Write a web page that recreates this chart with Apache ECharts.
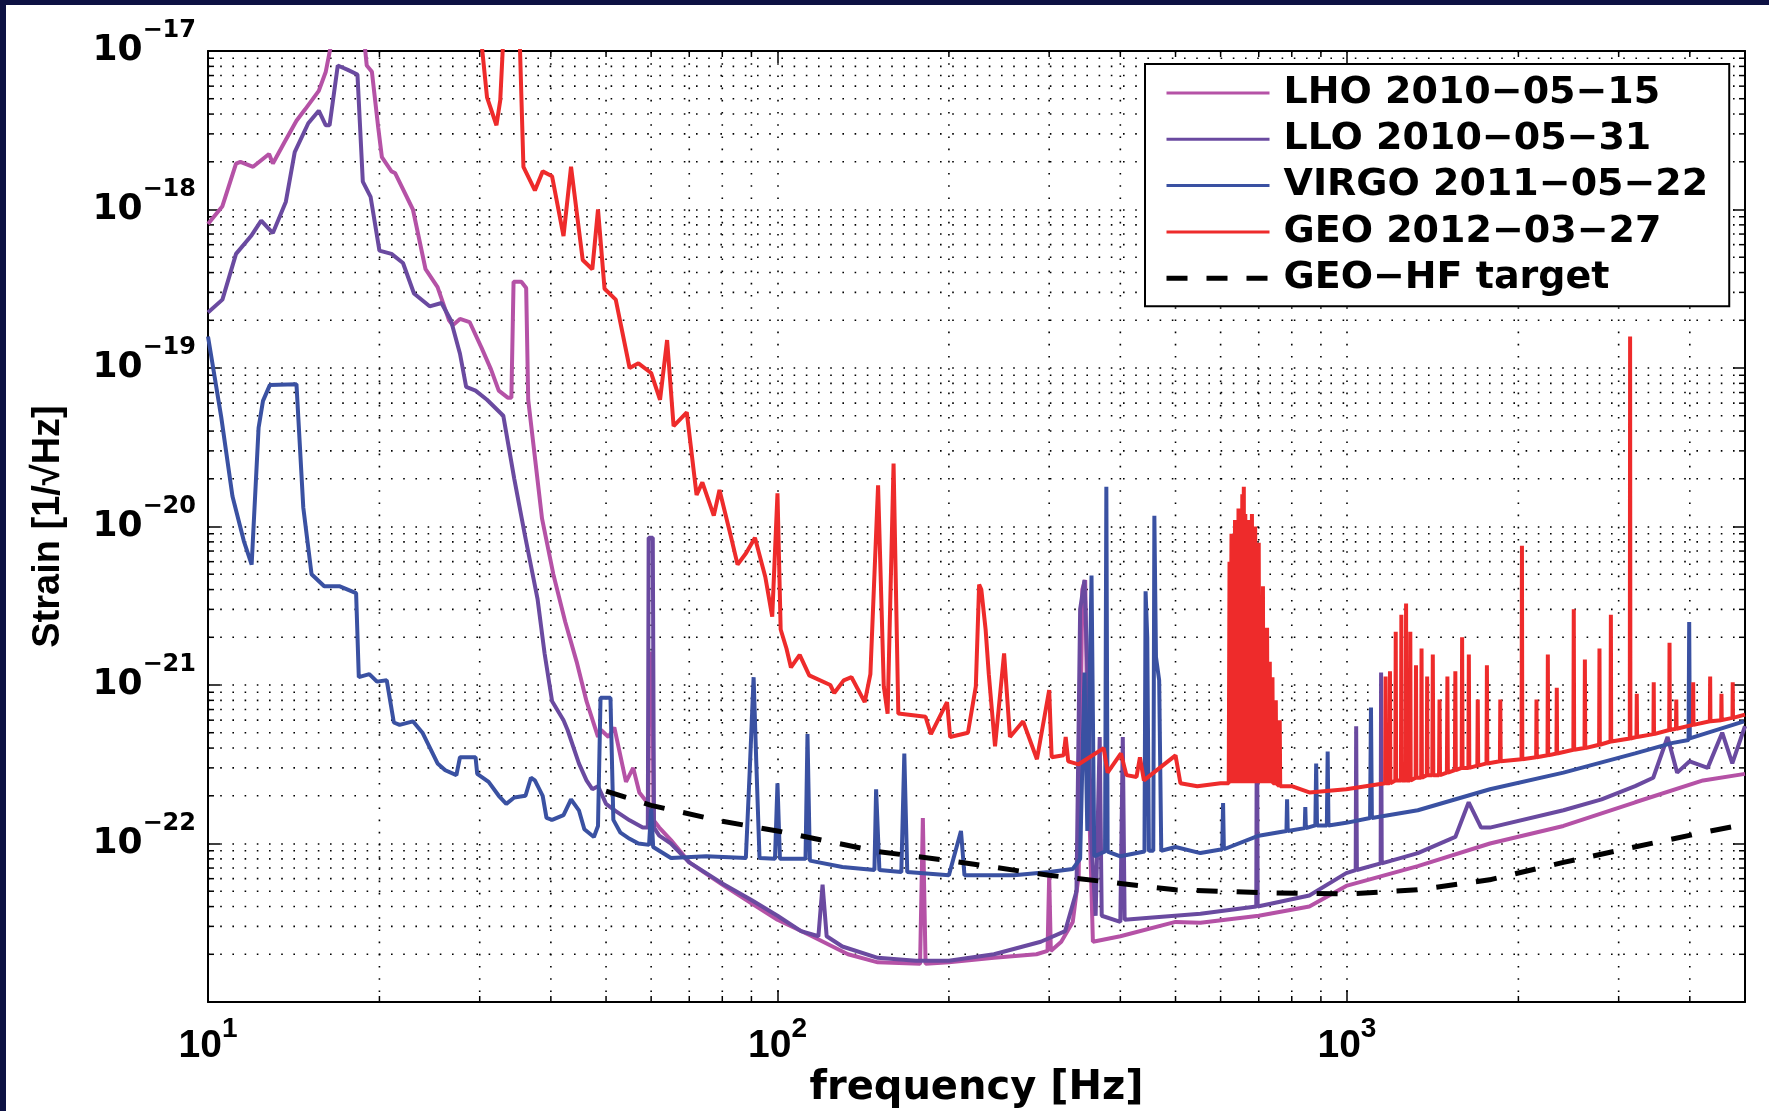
<!DOCTYPE html>
<html>
<head>
<meta charset="utf-8">
<title>Strain sensitivity</title>
<script src="https://cdn.jsdelivr.net/npm/echarts@6/dist/echarts.min.js"></script>
<style>
  html, body { margin: 0; padding: 0; width: 1769px; height: 1111px; background: #0d1143; overflow: hidden; }
  #chart { position: absolute; left: 6px; top: 5px; width: 1763px; height: 1106px; background: #fff; }
</style>
</head>
<body>
<div id="chart"></div>
<script>
// [frequency Hz, strain 1/sqrt(Hz)]
var lhoData = [
  [10, 8.1e-19], [10.6, 1.05e-18], [11.2, 1.95e-18], [11.4, 2.0e-18], [12.0, 1.86e-18], [12.8, 2.24e-18],
  [13.0, 1.95e-18], [13.6, 2.63e-18], [14.3, 3.63e-18], [14.8, 4.27e-18], [15.65, 5.6e-18], [16.1, 7.4e-18],
  [16.6, 1.3e-17], [17.5, 3e-17], [18.3, 3e-17], [18.75, 1.3e-17], [19.0, 8.1e-18], [19.4, 7.4e-18],
  [19.9, 3.3e-18], [20.2, 2.14e-18], [21.0, 1.74e-18], [21.3, 1.7e-18], [22.9, 1.0e-18], [24.1, 4.2e-19],
  [25.3, 3.24e-19], [26.5, 2.0e-19], [26.9, 1.86e-19], [27.7, 2.04e-19], [28.8, 1.95e-19], [30.2, 1.35e-19],
  [31.4, 9.8e-20], [32.4, 7.2e-20], [33.6, 6.5e-20], [34.1, 6.5e-20], [34.4, 3.5e-19], [35.5, 3.5e-19],
  [36.2, 3.2e-19], [36.5, 6.3e-20], [38.6, 1.12e-20], [40.4, 5.0e-21], [42.4, 2.5e-21], [44.4, 1.4e-21],
  [46.2, 7.9e-22], [48.4, 4.7e-22], [49, 5.2e-22], [50.5, 4.7e-22], [51.7, 5.4e-22], [54.2, 2.45e-22],
  [55.8, 3.0e-22], [57.2, 2.1e-22], [59.3, 1.78e-22], [59.6, 1.58e-21], [60.3, 1.58e-21], [60.6, 1.4e-22],
  [62, 1.26e-22], [65, 1.05e-22], [70, 7.6e-23], [80, 5.5e-23], [90, 4.2e-23], [100, 3.3e-23],
  [115, 2.6e-23], [133, 2.0e-23], [150, 1.78e-23], [178, 1.74e-23], [180, 1.45e-22], [182, 1.74e-23],
  [200, 1.78e-23], [240, 1.9e-23], [285, 2.0e-23], [298, 2.1e-23], [300, 6.3e-23], [302, 2.1e-23],
  [315, 2.4e-23], [330, 3.2e-23], [338, 6.3e-23], [343, 4.0e-21], [347, 4.6e-21], [351, 3.2e-22],
  [358, 2.4e-23], [400, 2.6e-23], [500, 3.2e-23], [553, 3.16e-23], [700, 3.5e-23], [859, 4.0e-23],
  [997, 5.4e-23], [1332, 7.2e-23], [1783, 1.0e-22], [2400, 1.29e-22], [3207, 1.82e-22], [4220, 2.5e-22],
  [5000, 2.75e-22]
];

var lloData = [
  [10, 2.24e-19], [10.6, 2.7e-19], [11.2, 5.25e-19], [11.9, 6.8e-19], [12.4, 8.5e-19], [13.0, 7.1e-19],
  [13.7, 1.12e-18], [14.2, 2.3e-18], [15.0, 3.5e-18], [15.65, 4.2e-18], [16.1, 3.4e-18], [16.35, 3.4e-18],
  [16.9, 8.1e-18], [17.6, 7.6e-18], [18.3, 7.1e-18], [18.7, 1.5e-18], [19.3, 1.2e-18], [20.0, 5.5e-19],
  [21.0, 5.25e-19], [22.0, 4.6e-19], [23.0, 2.95e-19], [24.5, 2.45e-19], [25.7, 2.57e-19], [26.7, 2.0e-19],
  [27.7, 1.23e-19], [28.4, 7.6e-20], [29.5, 7.2e-20], [30.9, 6.3e-20], [33, 5.0e-20], [34.5, 2.0e-20],
  [36, 8.9e-21], [37.9, 3.5e-21], [39, 1.58e-21], [40.2, 7.9e-22], [42.1, 6.0e-22], [42.8, 5.2e-22],
  [44.8, 3.2e-22], [46.2, 2.5e-22], [47.3, 2.2e-22], [48.4, 2.3e-22], [50, 1.78e-22], [52, 1.6e-22],
  [55, 1.4e-22], [58, 1.26e-22], [59.2, 1.26e-22], [59.4, 8.5e-21], [60.4, 8.5e-21], [60.7, 1.26e-22],
  [62, 1.12e-22], [65, 1.0e-22], [70, 7.6e-23], [80, 5.6e-23], [90, 4.4e-23], [100, 3.5e-23],
  [110, 2.8e-23], [118, 2.6e-23], [120, 5.5e-23], [122, 2.6e-23], [130, 2.24e-23], [150, 1.9e-23],
  [175, 1.82e-23], [200, 1.82e-23], [240, 2.0e-23], [290, 2.4e-23], [320, 2.8e-23], [335, 5.0e-23],
  [340, 3.0e-21], [346, 4.6e-21], [350, 1.3e-21], [356, 1.0e-22], [362, 3.5e-23], [368, 4.7e-22],
  [371, 3.5e-23], [400, 3.2e-23], [404, 4.7e-22], [407, 3.3e-23], [450, 3.4e-23], [553, 3.6e-23],
  [693, 4.0e-23], [695, 1.5e-21], [697, 4.0e-23], [859, 4.7e-23], [997, 6.5e-23], [1036, 6.8e-23],
  [1038, 5.5e-22], [1041, 6.8e-23], [1146, 7.5e-23], [1148, 1.2e-21], [1151, 7.5e-23], [1332, 8.7e-23],
  [1550, 1.1e-22], [1636, 1.82e-22], [1720, 1.26e-22], [1783, 1.26e-22], [2400, 1.62e-22], [2800, 1.9e-22],
  [3207, 2.3e-22], [3450, 2.6e-22], [3656, 4.7e-22], [3800, 2.8e-22], [3998, 3.3e-22], [4300, 3.0e-22],
  [4560, 5.0e-22], [4750, 3.2e-22], [5000, 5.5e-22]
];

var virgoData = [
  [10, 1.58e-19], [10.55, 4.9e-20], [11.04, 1.55e-20], [11.56, 8.1e-21], [11.93, 5.75e-21], [12.27, 4.2e-20],
  [12.49, 6.2e-20], [12.84, 7.8e-20], [14.3, 7.9e-20], [14.7, 1.32e-20], [15.2, 5.0e-21], [16.0, 4.2e-21],
  [17.0, 4.2e-21], [18.2, 3.8e-21], [18.4, 1.12e-21], [19.2, 1.17e-21], [19.8, 1.05e-21], [20.6, 1.07e-21],
  [21.2, 5.8e-22], [21.7, 5.6e-22], [22.9, 5.9e-22], [23.8, 5.0e-22], [25.3, 3.2e-22], [26.1, 2.9e-22],
  [27.3, 2.7e-22], [27.7, 3.5e-22], [29.5, 3.5e-22], [29.7, 2.75e-22], [31.1, 2.45e-22], [32.4, 2.0e-22],
  [33.4, 1.78e-22], [34.5, 1.95e-22], [36.1, 2.0e-22], [36.9, 2.6e-22], [37.5, 2.5e-22], [38.7, 2.0e-22],
  [39.3, 1.45e-22], [40.2, 1.41e-22], [42.1, 1.51e-22], [43.4, 1.9e-22], [44.8, 1.62e-22], [45.8, 1.23e-22],
  [47.6, 1.1e-22], [48.4, 1.29e-22], [48.9, 8.3e-22], [50.9, 8.3e-22], [51.5, 1.41e-22], [53, 1.17e-22],
  [55, 1.07e-22], [57, 1.0e-22], [59.5, 9.8e-23], [60, 1.66e-22], [60.5, 9.5e-23], [65, 8.1e-23],
  [75, 8.3e-23], [88, 8.1e-23], [89.5, 3.2e-22], [90.8, 1.12e-21], [91.8, 3.2e-22], [93, 8.1e-23],
  [99, 8.0e-23], [100, 2.4e-22], [101, 8.0e-23], [112, 8.0e-23], [112.9, 4.9e-22], [114, 7.8e-23],
  [130, 7.1e-23], [148, 6.8e-23], [149, 2.2e-22], [151, 6.8e-23], [165, 6.6e-23], [167, 3.7e-22],
  [169, 6.6e-23], [200, 6.3e-23], [210, 1.2e-22], [213, 6.3e-23], [260, 6.3e-23], [300, 6.6e-23],
  [330, 6.9e-23], [340, 8.0e-23], [346, 1.2e-21], [350, 1.2e-22], [356, 4.9e-21], [360, 8.3e-23],
  [376, 8.9e-23], [378, 1.78e-20], [380, 8.9e-23], [400, 8.3e-23], [441, 8.9e-23], [443, 3.9e-21],
  [446, 2.0e-21], [449, 9.0e-23], [457, 9.0e-23], [459, 1.17e-20], [462, 1.5e-21], [468, 1.07e-21],
  [472, 9.0e-23], [500, 9.5e-23], [553, 8.7e-23], [604, 9.2e-23], [606, 1.8e-22], [608, 9.2e-23],
  [700, 1.12e-22], [783, 1.2e-22], [785, 1.9e-22], [787, 1.2e-22], [843, 1.25e-22], [845, 1.7e-22],
  [847, 1.25e-22], [880, 1.3e-22], [883, 3.2e-22],
  [886, 1.3e-22], [922, 1.3e-22], [925, 3.8e-22], [928, 1.3e-22], [997, 1.35e-22], [1098, 1.45e-22],
  [1102, 7.2e-22], [1106, 1.45e-22], [1332, 1.62e-22], [1783, 2.2e-22], [2400, 2.8e-22], [3207, 3.7e-22],
  [3717, 4.3e-22], [3980, 4.5e-22], [3990, 2.5e-21], [4000, 4.6e-22], [4980, 5.9e-22]
];

var geoData = [
  [29.4, 3e-17], [30.9, 5.1e-18], [32.1, 3.4e-18], [32.6, 4.9e-18], [33.1, 1.5e-17], [34.2, 3e-17],
  [35.2, 1.5e-17], [35.8, 1.86e-18], [37.5, 1.32e-18], [38.7, 1.74e-18], [40.2, 1.62e-18], [42.1, 6.8e-19],
  [43.4, 1.86e-18], [45.5, 4.8e-19], [47.3, 4.2e-19], [48.4, 1.0e-18], [49.7, 3.16e-19], [52, 2.7e-19],
  [55, 1.0e-19], [57, 1.07e-19], [60, 9.3e-20], [62.2, 6.3e-20], [64, 1.5e-19], [65.7, 4.3e-20],
  [69.3, 5.25e-20], [72.1, 1.58e-20], [73.8, 1.9e-20], [77.3, 1.17e-20], [79.1, 1.7e-20], [82.8, 8.7e-21],
  [85.1, 5.75e-21], [88.1, 6.8e-21], [91.3, 8.5e-21], [95.2, 4.8e-21], [97.9, 2.7e-21], [100, 1.62e-20],
  [101.3, 2.24e-21], [103.7, 1.7e-21], [105.6, 1.29e-21], [109.4, 1.55e-21], [113.7, 1.15e-21], [123.8, 1.0e-21],
  [125.8, 8.9e-22], [130.7, 1.07e-21], [134.9, 1.12e-21], [142.3, 7.8e-22], [145.6, 1.17e-21], [150.2, 1.82e-20],
  [153.7, 9.8e-22], [156.1, 6.6e-22], [159.9, 2.5e-20], [163, 6.6e-22], [182, 6.3e-22], [186, 4.9e-22],
  [198.5, 7.8e-22], [201, 4.7e-22], [216, 5.0e-22], [223, 9.8e-22], [226, 4.3e-21], [228, 4.0e-21],
  [232, 2.24e-21], [235, 1.17e-21], [241, 4.1e-22], [250, 1.58e-21], [256, 4.7e-22], [270, 5.9e-22],
  [285.5, 3.4e-22], [300, 9.3e-22], [303, 3.5e-22], [318, 3.6e-22], [320.7, 4.7e-22], [324, 3.3e-22],
  [338, 3.16e-22], [374, 4.0e-22], [380, 2.8e-22], [401, 3.7e-22], [410, 2.7e-22], [427, 2.63e-22],
  [433, 3.5e-22], [440, 2.5e-22], [500, 3.6e-22], [510, 2.4e-22], [546, 2.3e-22], [600, 2.4e-22],
  // dense line cluster 620-760 Hz
  [620, 2.4e-22], [622, 6e-21], [623.5, 2.4e-22], [625.5, 2.4e-22], [627, 9e-21], [628.5, 2.4e-22],
  [630, 2.4e-22], [631, 4e-21], [632.5, 2.4e-22], [634.5, 2.4e-22], [636, 1.1e-20], [637.5, 2.4e-22],
  [639.5, 2.4e-22], [641, 7e-21], [642.5, 2.4e-22], [643.5, 2.4e-22], [645, 1.3e-20], [646.5, 2.4e-22],
  [648.5, 2.4e-22], [650, 9e-21], [651.5, 2.4e-22], [653.5, 2.4e-22], [655, 1.6e-20], [656.5, 2.4e-22],
  [657.5, 2.4e-22], [659, 1.78e-20], [660.5, 2.4e-22], [661.5, 2.4e-22], [663, 1.2e-20], [664.5, 2.4e-22],
  [666.5, 2.4e-22], [668, 8e-21], [669.5, 2.4e-22], [670.5, 2.4e-22], [672, 1.1e-20], [673.5, 2.4e-22],
  [675.5, 2.4e-22], [677, 6e-21], [678.5, 2.4e-22], [679.5, 2.4e-22], [681, 1.2e-20], [682.5, 2.4e-22],
  [684.5, 2.4e-22], [686, 9e-21], [687.5, 2.4e-22], [688.5, 2.4e-22], [690, 1.0e-20], [691.5, 2.4e-22],
  [693.5, 2.4e-22], [695, 5e-21], [696.5, 2.4e-22], [698.5, 2.4e-22], [700, 7.9e-21], [701.5, 2.4e-22],
  [704.5, 2.4e-22], [706, 3e-21], [707.5, 2.4e-22], [710.5, 2.4e-22], [712, 4.2e-21], [713.5, 2.4e-22],
  [716.5, 2.4e-22], [718, 2e-21], [719.5, 2.4e-22], [722.5, 2.4e-22], [724, 2.3e-21], [725.5, 2.4e-22],
  [730.5, 2.4e-22], [732, 1.4e-21], [733.5, 2.4e-22], [738.5, 2.4e-22], [740, 1.12e-21], [741.5, 2.4e-22],
  [748.5, 2.4e-22], [750, 8e-22], [751.5, 2.4e-22], [760.5, 2.3e-22], [762, 6e-22], [763.5, 2.3e-22],
  [800, 2.3e-22], [859, 2.1e-22], [997, 2.2e-22],
  // spikes above 1 kHz
  [1167, 2.4e-22], [1169, 1.13e-21], [1171, 2.4e-22], [1188, 2.4e-22], [1190, 1.22e-21], [1192, 2.4e-22],
  [1216, 2.5e-22], [1218, 2.17e-21], [1220, 2.5e-22], [1244, 2.5e-22], [1246, 2.77e-21], [1248, 2.5e-22],
  [1268, 2.5e-22], [1270, 3.27e-21], [1272, 2.5e-22], [1290, 2.5e-22], [1292, 2.17e-21], [1294, 2.5e-22],
  [1320, 2.6e-22], [1322, 1.33e-21], [1324, 2.6e-22], [1350, 2.6e-22], [1352, 1.7e-21], [1354, 2.6e-22],
  [1381, 2.7e-22], [1383, 1.13e-21], [1385, 2.7e-22], [1412, 2.7e-22], [1415, 1.56e-21], [1418, 2.7e-22],
  [1451, 2.7e-22], [1454, 8.1e-22], [1457, 2.7e-22], [1498, 2.8e-22], [1501, 1.13e-21], [1504, 2.8e-22],
  [1547, 2.9e-22], [1550, 1.22e-21], [1553, 2.9e-22], [1590, 3.0e-22], [1593, 2.0e-21], [1596, 3.0e-22],
  [1634, 3.0e-22], [1637, 1.56e-21], [1640, 3.0e-22], [1694, 3.1e-22], [1697, 8.1e-22], [1700, 3.1e-22],
  [1758, 3.2e-22], [1761, 1.33e-21], [1764, 3.2e-22], [1856, 3.3e-22], [1859, 8.1e-22], [1862, 3.3e-22],
  [2026, 3.4e-22], [2029, 7.55e-21], [2032, 3.4e-22], [2149, 3.5e-22], [2152, 8.1e-22], [2155, 3.5e-22],
  [2250, 3.6e-22], [2253, 1.56e-21], [2256, 3.6e-22], [2333, 3.7e-22], [2336, 9.6e-22], [2339, 3.7e-22],
  [2498, 3.9e-22], [2502, 3.0e-21], [2506, 3.9e-22], [2613, 4.0e-22], [2617, 1.45e-21], [2621, 4.0e-22],
  [2772, 4.2e-22], [2776, 1.7e-21], [2780, 4.2e-22], [2903, 4.4e-22], [2907, 2.77e-21], [2911, 4.4e-22],
  [3138, 4.6e-22], [3142, 1.58e-19], [3146, 4.6e-22], [3224, 4.7e-22], [3228, 8.8e-22], [3232, 4.7e-22],
  [3453, 4.9e-22], [3457, 1.04e-21], [3461, 4.9e-22], [3680, 5.2e-22], [3685, 1.85e-21], [3690, 5.2e-22],
  [3782, 5.3e-22], [3787, 8.1e-22], [3792, 5.3e-22], [4050, 5.6e-22], [4055, 1.04e-21], [4060, 5.6e-22],
  [4338, 5.9e-22], [4343, 1.13e-21], [4348, 5.9e-22], [4541, 6.0e-22], [4546, 8.8e-22], [4551, 6.0e-22],
  [4753, 6.2e-22], [4758, 1.04e-21], [4763, 6.2e-22], [5000, 6.5e-22]
];

var geoHfTarget = [
  [50, 2.14e-22], [60, 1.74e-22], [80, 1.38e-22], [100, 1.2e-22], [150, 8.9e-23], [200, 7.8e-23],
  [300, 6.3e-23], [400, 5.6e-23], [500, 5.1e-23], [700, 4.9e-23], [1000, 4.8e-23], [1330, 5.1e-23],
  [1780, 5.9e-23], [2400, 7.6e-23], [3200, 9.5e-23], [4200, 1.17e-22], [5000, 1.32e-22]
];

var seriesNames = ['LHO 2010\u221205\u221215', 'LLO 2010\u221205\u221231', 'VIRGO 2011\u221205\u221222',
                   'GEO 2012\u221203\u221227', 'GEO\u2212HF target'];
var seriesColors = ['#b552a6', '#6a4aa0', '#3a51a2', '#ee2b2b', '#000000'];

var xMin = 10, xMax = 5000;
var yMin = 1e-23, yMax = 1e-17;

// minor grid positions (2..9 per decade)
var xMinor = [], yMinor = [];
[10, 100, 1000].forEach(function (d) {
  for (var k = 2; k <= 9; k++) if (k * d < xMax) xMinor.push([k * d, 1e-20]);
});
[1e-23, 1e-22, 1e-21, 1e-20, 1e-19, 1e-18].forEach(function (d) {
  for (var k = 2; k <= 9; k++) yMinor.push([100, k * d]);
});

var dotted = [1.6, 10.6];
var dashPattern = [21, 19];

function decadeExp(v) {
  var e = Math.round(Math.log10(v));
  return Math.abs(v / Math.pow(10, e) - 1) < 1e-6 ? e : null;
}

function minorX(params, api) {
  var cs = params.coordSys;
  var x = api.coord([api.value(0), 1e-20])[0];
  var b = cs.y + cs.height;
  return { type: 'group', children: [
    { type: 'line', shape: { x1: x, y1: cs.y, x2: x, y2: b }, style: { stroke: '#000', lineWidth: 1.6, lineDash: dotted } },
    { type: 'line', shape: { x1: x, y1: b, x2: x, y2: b - 6 }, style: { stroke: '#000', lineWidth: 1.5 } },
    { type: 'line', shape: { x1: x, y1: cs.y, x2: x, y2: cs.y + 6 }, style: { stroke: '#000', lineWidth: 1.5 } }
  ] };
}

function minorY(params, api) {
  var cs = params.coordSys;
  var y = api.coord([100, api.value(1)])[1];
  var r = cs.x + cs.width;
  return { type: 'group', children: [
    { type: 'line', shape: { x1: cs.x, y1: y, x2: r, y2: y }, style: { stroke: '#000', lineWidth: 1.6, lineDash: dotted } },
    { type: 'line', shape: { x1: cs.x, y1: y, x2: cs.x + 6, y2: y }, style: { stroke: '#000', lineWidth: 1.5 } },
    { type: 'line', shape: { x1: r, y1: y, x2: r - 6, y2: y }, style: { stroke: '#000', lineWidth: 1.5 } }
  ] };
}

function logAxis(pos, min, max, extra) {
  var ax = {
    type: 'log', logBase: 10, position: pos, min: min, max: max,
    axisLine: { show: true, onZero: false, lineStyle: { color: '#000', width: 2 } },
    axisTick: { show: true, inside: true, length: 12, lineStyle: { color: '#000', width: 1.5 } },
    axisLabel: { show: false },
    splitLine: { show: false }
  };
  return Object.assign(ax, extra || {});
}

var chart = echarts.init(document.getElementById('chart'), null, { renderer: 'canvas' });

var lineSeries = [lhoData, lloData, virgoData, geoData, geoHfTarget].map(function (d, i) {
  var dashed = i === 4;
  return {
    name: seriesNames[i],
    type: 'line',
    data: d,
    symbol: 'none',
    showSymbol: false,
    clip: true,
    z: 3,
    color: seriesColors[i],
    lineStyle: { color: seriesColors[i], width: dashed ? 5 : 4, type: dashed ? dashPattern : 'solid' }
  };
});

var legendItems = seriesNames.map(function (n, i) {
  var dashed = i === 4;
  return {
    name: n,
    lineStyle: { color: seriesColors[i], width: dashed ? 5 : 3, type: dashed ? dashPattern : 'solid' }
  };
});

chart.setOption({
  animation: false,
  backgroundColor: '#ffffff',
  grid: { left: 202, right: 24, top: 46, bottom: 109, containLabel: false, outerBoundsMode: 'none' },
  legend: {
    data: legendItems,
    orient: 'vertical',
    left: 1139, top: 59,
    padding: [9, 21, 8, 19],
    itemWidth: 103, itemHeight: 14, itemGap: 6.3,
    itemStyle: { opacity: 0 },
    backgroundColor: '#fff', borderColor: '#000', borderWidth: 2, borderRadius: 0,
    selectedMode: false,
    textStyle: { fontFamily: 'DejaVu Sans', fontWeight: 'bold', fontSize: 38, color: '#000', lineHeight: 40, padding: [0, 0, 0, 9] }
  },
  xAxis: [
    logAxis('bottom', xMin, xMax, {
      name: 'frequency [Hz]', nameLocation: 'middle', nameGap: 67, nameMoveOverlap: false,
      nameTextStyle: { fontFamily: 'DejaVu Sans', fontWeight: 'bold', fontSize: 40, color: '#000' },
      splitLine: { show: true, lineStyle: { color: '#000', width: 1.6, type: dotted } },
      axisLabel: {
        show: true, margin: 24, showMaxLabel: false,
        formatter: function (v) {
          var e = decadeExp(v);
          return e === null ? '' : '{b|10}{s|' + e + '}';
        },
        rich: {
          b: { fontFamily: 'Liberation Sans', fontWeight: 'bold', fontSize: 39, lineHeight: 40, color: '#000' },
          s: { fontFamily: 'Liberation Sans', fontWeight: 'bold', fontSize: 28, lineHeight: 28, color: '#000', padding: [0, 0, 34, 0] }
        }
      }
    }),
    logAxis('top', xMin, xMax)
  ],
  yAxis: [
    logAxis('left', yMin, yMax, {
      name: 'Strain [1/\u221AHz]', nameLocation: 'middle', nameGap: 140, nameMoveOverlap: false,
      nameTextStyle: { fontFamily: 'Liberation Sans', fontWeight: 'bold', fontSize: 38, color: '#000' },
      splitLine: { show: true, lineStyle: { color: '#000', width: 1.6, type: dotted } },
      axisLabel: {
        show: true, margin: 12,
        formatter: function (v) {
          var e = decadeExp(v);
          return e === null ? '' : '{b|10}{s|\u2212' + (-e) + '}';
        },
        rich: {
          b: { fontFamily: 'DejaVu Sans', fontWeight: 'bold', fontSize: 36, lineHeight: 38, color: '#000' },
          s: { fontFamily: 'DejaVu Sans', fontWeight: 'bold', fontSize: 24, lineHeight: 26, color: '#000', padding: [0, 0, 40, 0] }
        }
      }
    }),
    logAxis('right', yMin, yMax)
  ],
  series: [
    { type: 'custom', name: 'xminor', coordinateSystem: 'cartesian2d', data: xMinor, renderItem: minorX, silent: true, z: 1, clip: false },
    { type: 'custom', name: 'yminor', coordinateSystem: 'cartesian2d', data: yMinor, renderItem: minorY, silent: true, z: 1, clip: false }
  ].concat(lineSeries)
});
</script>
</body>
</html>
